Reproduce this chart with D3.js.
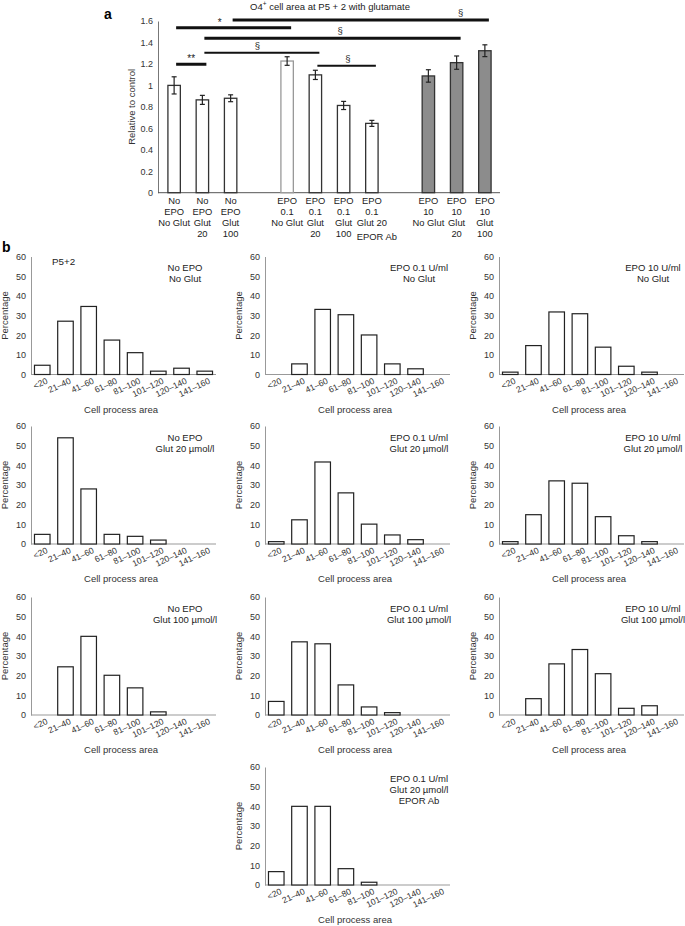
<!DOCTYPE html>
<html><head><meta charset="utf-8">
<script src="https://cdnjs.cloudflare.com/ajax/libs/d3/7.8.5/d3.min.js"></script>
<style>body{margin:0;background:#fff}svg{display:block}text{font-family:"Liberation Sans",Arial,Helvetica,sans-serif}</style>
</head><body><svg id="c" width="685" height="926"></svg>
<script>
// ---------- Panel a data ----------
const aKeys = ["NE_NG","NE_G20","NE_G100","gap1","E01_NG","E01_G20","E01_G100","E01_G20Ab","gap2","E10_NG","E10_G20","E10_G100"];
const aBars = ["NE_NG","NE_G20","NE_G100","E01_NG","E01_G20","E01_G100","E01_G20Ab","E10_NG","E10_G20","E10_G100"];
const aLabels = [["No","EPO","No Glut"],["No","EPO","Glut","20"],["No","EPO","Glut","100"],
  ["EPO","0.1","No Glut"],["EPO","0.1","Glut","20"],["EPO","0.1","Glut","100"],["EPO","0.1","Glut 20","EPOR Ab"],
  ["EPO","10","No Glut"],["EPO","10","Glut","20"],["EPO","10","Glut","100"]];
const aValues = [1.0, 0.865, 0.88, 1.227, 1.098, 0.813, 0.646, 1.088, 1.212, 1.323];
const aErrors = [0.08, 0.042, 0.032, 0.04, 0.043, 0.038, 0.028, 0.058, 0.062, 0.055];
const aGroup  = [0,0,0,1,1,1,1,2,2,2];
const aTicks  = [0,0.2,0.4,0.6,0.8,1,1.2,1.4,1.6];
// significance comparisons: from bar, to bar, level, symbol
const sigFrom  = ["NE_NG","NE_G100","NE_G20","NE_G20","NE_NG","E01_G20"];
const sigTo    = ["E01_NG","E10_G100","E10_G20","E01_G20","NE_G20","E01_G20Ab"];
const sigLevel = [1.538, 1.61, 1.44, 1.305, 1.197, 1.184];
const sigText  = ["*","§","§","§","**","§"];

// ---------- Panel b data ----------
const bins = ["<20","21–40","41–60","61–80","81–100","101–120","120–140","141–160"];
const hTicks = [0,10,20,30,40,50,60];
const hNoEpoNoGlut   = [4.7, 27.1, 34.6, 17.5, 11.1, 1.7, 3.2, 1.7];
const hEpo01NoGlut   = [0, 5.4, 33.1, 30.4, 20.1, 5.4, 2.9, 0];
const hEpo10NoGlut   = [1.2, 14.7, 31.8, 30.9, 13.9, 4.2, 1.2, 0];
const hNoEpoGlut20   = [4.9, 54, 28, 4.9, 3.9, 2.0, 0, 0];
const hEpo01Glut20   = [1.2, 12.3, 41.7, 26, 10.1, 4.6, 2.2, 0];
const hEpo10Glut20   = [1.2, 14.9, 32.1, 30.9, 13.9, 4.2, 1.2, 0];
const hNoEpoGlut100  = [0, 24.5, 40, 20.2, 13.8, 1.6, 0, 0];
const hEpo01Glut100  = [6.9, 37.2, 36.2, 15.3, 4.1, 1.2, 0, 0];
const hEpo10Glut100  = [0, 8.3, 26, 33.3, 21, 3.4, 4.7, 0];
const hEpo01Glut20Ab = [6.8, 40, 40, 8.3, 1.4, 0, 0, 0];
const hLabels = [["No EPO","No Glut"],["EPO 0.1 U/ml","No Glut"],["EPO 10 U/ml","No Glut"],
  ["No EPO","Glut 20 µmol/l"],["EPO 0.1 U/ml","Glut 20 µmol/l"],["EPO 10 U/ml","Glut 20 µmol/l"],
  ["No EPO","Glut 100 µmol/l"],["EPO 0.1 U/ml","Glut 100 µmol/l"],["EPO 10 U/ml","Glut 100 µmol/l"],
  ["EPO 0.1 U/ml","Glut 20 µmol/l","EPOR Ab"]];
const hSeries = [hNoEpoNoGlut,hEpo01NoGlut,hEpo10NoGlut,hNoEpoGlut20,hEpo01Glut20,hEpo10Glut20,
  hNoEpoGlut100,hEpo01Glut100,hEpo10Glut100,hEpo01Glut20Ab];

const svg = d3.select("#c");
svg.append("rect").attr("width",685).attr("height",926).attr("fill","#fff");

// ================= Panel a =================
const ax = d3.scaleBand().domain(aKeys).range([160, 499]).paddingInner(0.56).paddingOuter(0.28);
const ay = d3.scaleLinear().domain([0,1.6]).range([192.7, 21]);
const ga = svg.append("g");

ga.append("text").attr("x",104).attr("y",19).attr("font-size",14).attr("font-weight","bold").text("a");
const t = ga.append("text").attr("x",330).attr("y",9.5).attr("text-anchor","middle").attr("font-size",9.5).attr("fill","#222");
t.append("tspan").text("O4");
t.append("tspan").attr("dy",-3.5).attr("font-size",6.5).text("+");
t.append("tspan").attr("dy",3.5).text(" cell area at P5 + 2 with glutamate");

const yAxA = ga.append("g").attr("transform","translate(158,0)")
  .call(d3.axisLeft(ay).tickValues(aTicks).tickSize(0).tickPadding(5).tickFormat(d3.format("~g")));
yAxA.select(".domain").attr("stroke","#777");
yAxA.selectAll("text").attr("font-size",9).attr("fill","#333").attr("font-family","Liberation Sans, Arial");
ga.append("line").attr("x1",158).attr("x2",500).attr("y1",ay(0)).attr("y2",ay(0)).attr("stroke","#555");
ga.append("text").attr("transform","translate(135,"+((ay(0)+ay(1.6))/2)+") rotate(-90)")
  .attr("text-anchor","middle").attr("font-size",9.5).attr("fill","#333").text("Relative to control");

const fills = ["#fff","#fff","#8c8c8c"];
aBars.forEach((k,i)=>{
  const x = ax(k), w = ax.bandwidth(), cx = x + w/2;
  ga.append("rect").attr("x",x).attr("y",ay(aValues[i])).attr("width",w).attr("height",ay(0)-ay(aValues[i]))
    .attr("fill",fills[aGroup[i]]).attr("stroke", i===3 ? "#999" : "#333").attr("stroke-width",1.3);
  const y1 = ay(aValues[i]+aErrors[i]), y2 = ay(aValues[i]-aErrors[i]);
  ga.append("line").attr("x1",cx).attr("x2",cx).attr("y1",y1).attr("y2",y2).attr("stroke","#222").attr("stroke-width",1.2);
  [y1,y2].forEach(yy=>ga.append("line").attr("x1",cx-2.5).attr("x2",cx+2.5).attr("y1",yy).attr("y2",yy).attr("stroke","#222").attr("stroke-width",1.2));
  aLabels[i].forEach((s,j)=>{
    const extra = (s==="EPOR Ab") ? 1 : 0;
    ga.append("text").attr("x",cx+extra*5).attr("y",ay(0)+11+j*11.2+extra*3).attr("text-anchor","middle")
      .attr("font-size",9.4).attr("fill","#222").text(s);
  });
});

const sigWidth = [3,3,3,2,3,2];
const sigPos = [0.38,0.89,0.53,0.46,0.5,0.52];
sigFrom.forEach((f,i)=>{
  const x1 = ax(f)+ax.bandwidth()/2+2, x2 = ax(sigTo[i])+ax.bandwidth()/2+4;
  const y = ay(sigLevel[i]);
  ga.append("line").attr("x1",x1).attr("x2",x2).attr("y1",y).attr("y2",y).attr("stroke","#111").attr("stroke-width",sigWidth[i]);
  ga.append("text").attr("x",x1+(x2-x1)*sigPos[i]).attr("y",y-(sigText[i]==="§"?4:2)).attr("text-anchor","middle")
    .attr("font-size",sigText[i]==="§"?9.5:10).attr("fill","#222").text(sigText[i]);
});

// ================= Panel b =================
svg.append("text").attr("x",2).attr("y",252).attr("font-size",14).attr("font-weight","bold").text("b");
const colX = [31, 265, 499];
const rowY = [374.5, 544, 715, 885];
const cells = [[0,0],[0,1],[0,2],[1,0],[1,1],[1,2],[2,0],[2,1],[2,2],[3,1]];
const W = 185, H = 118;

hSeries.forEach((vals,i)=>{
  const x0 = colX[cells[i][1]], y0 = rowY[cells[i][0]];
  const g = svg.append("g");
  const x = d3.scaleBand().domain(bins).range([x0, x0+W]).paddingInner(0.33).paddingOuter(0.15);
  const y = d3.scaleLinear().domain([0,60]).range([y0, y0-H]);
  const yA = g.append("g").attr("transform","translate("+x0+",0)")
    .call(d3.axisLeft(y).tickValues(hTicks).tickSize(0).tickPadding(5));
  yA.select(".domain").attr("stroke","#999");
  yA.selectAll("text").attr("font-size",9).attr("fill","#333").attr("font-family","Liberation Sans, Arial");
  g.append("line").attr("x1",x0).attr("x2",x0+W).attr("y1",y0).attr("y2",y0).attr("stroke","#999");
  vals.forEach((v,j)=>{
    if (v<=0) return;
    g.append("rect").attr("x",x(bins[j])).attr("y",y(v)).attr("width",x.bandwidth()).attr("height",y0-y(v))
      .attr("fill","#fff").attr("stroke","#222").attr("stroke-width",1.2);
  });
  bins.forEach(b=>{
    const cx = x(b)+x.bandwidth()/2+6;
    g.append("text").attr("transform","translate("+cx+","+(y0+8.5)+") rotate(-25)")
      .attr("text-anchor","end").attr("font-size",8.6).attr("fill","#333").text(b);
  });
  g.append("text").attr("x",x0+90).attr("y",y0+38).attr("text-anchor","middle").attr("font-size",9.5).attr("fill","#333").text("Cell process area");
  g.append("text").attr("transform","translate("+(x0-23)+","+(y0-H/2)+") rotate(-90)").attr("text-anchor","middle")
    .attr("font-size",9.5).attr("fill","#333").text("Percentage");
  hLabels[i].forEach((s,j)=>{
    g.append("text").attr("x",x0+154).attr("y",y0-H+14.5+j*11.2).attr("text-anchor","middle")
      .attr("font-size",9.5).attr("fill","#222").text(s);
  });
  if (i===0) g.append("text").attr("x",x0+21).attr("y",y0-H+8).attr("font-size",9.8).attr("fill","#222").text("P5+2");
});
</script></body></html>
